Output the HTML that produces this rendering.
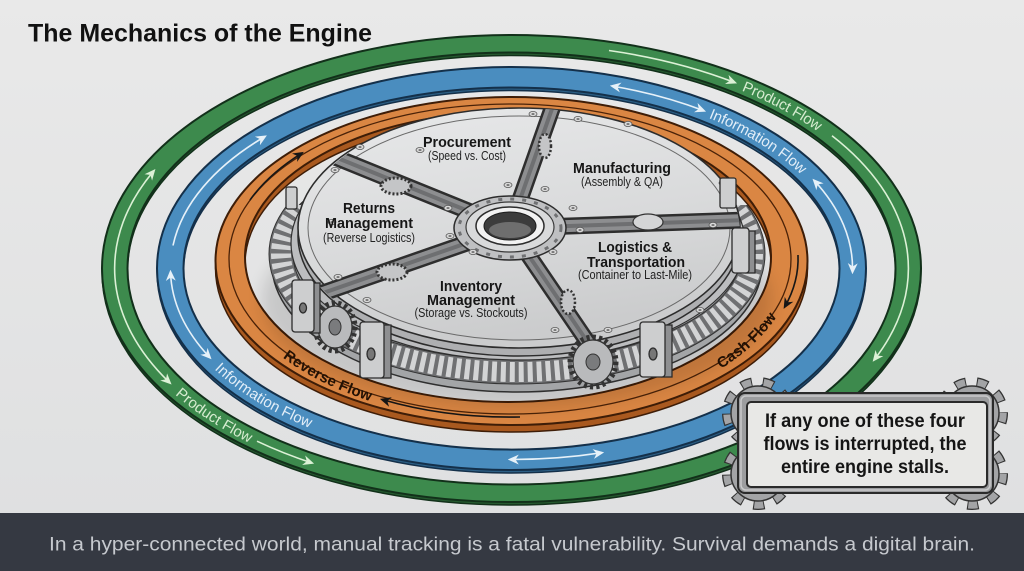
<!DOCTYPE html>
<html>
<head>
<meta charset="utf-8">
<style>
html,body{margin:0;padding:0;background:#e4e4e4;}
svg{display:block;}
.lbl{font-family:"Liberation Sans",sans-serif;font-weight:bold;fill:#161616;text-anchor:middle;}
.sub{font-family:"Liberation Sans",sans-serif;fill:#222;text-anchor:middle;}
.rl{font-family:"Liberation Sans",sans-serif;font-size:15px;text-anchor:middle;}
</style>
</head>
<body>
<svg width="1024" height="571" viewBox="0 0 1024 571" xmlns="http://www.w3.org/2000/svg">
<defs>
  <linearGradient id="bg" x1="0" y1="0" x2="0" y2="1">
    <stop offset="0" stop-color="#e9e9e9"/>
    <stop offset="1" stop-color="#dedfe0"/>
  </linearGradient>
  <linearGradient id="plate" x1="0" y1="0" x2="0.3" y2="1">
    <stop offset="0" stop-color="#e8e9ea"/>
    <stop offset="0.6" stop-color="#d9dadb"/>
    <stop offset="1" stop-color="#cbcccd"/>
  </linearGradient>
  <filter id="blur" x="-20%" y="-20%" width="140%" height="140%"><feGaussianBlur stdDeviation="8"/></filter>
  <clipPath id="plateClip"><ellipse cx="519" cy="232" rx="221" ry="124"/></clipPath>
  <clipPath id="teethClip"><rect x="0" y="205" width="1024" height="300"/></clipPath>
  <marker id="aG" viewBox="0 0 10 10" refX="8" refY="5" markerWidth="11" markerHeight="11" markerUnits="userSpaceOnUse" orient="auto-start-reverse"><path d="M0,0.5 L10,5 L0,9.5 L3,5 Z" fill="#dcf1d6"/></marker>
  <marker id="aB" viewBox="0 0 10 10" refX="8" refY="5" markerWidth="11" markerHeight="11" markerUnits="userSpaceOnUse" orient="auto-start-reverse"><path d="M0,0.5 L10,5 L0,9.5 L3,5 Z" fill="#e6f1f9"/></marker>
  <marker id="aO" viewBox="0 0 10 10" refX="8" refY="5" markerWidth="11" markerHeight="11" markerUnits="userSpaceOnUse" orient="auto-start-reverse"><path d="M0,0.5 L10,5 L0,9.5 L3,5 Z" fill="#161616"/></marker>
  <g id="sc"><ellipse cx="0" cy="0" rx="4" ry="2.6" fill="#d9d9d9" stroke="#555" stroke-width="0.8"/><ellipse cx="0" cy="0" rx="1.6" ry="1" fill="#777"/></g>

  <path id="pfTop" d="M710,73.7 A397,225 0 0,1 848.2,149.3"/>
  <path id="pfBot" d="M155.9,368.5 A397,225 0 0,0 280.4,451.4"/>
  <path id="ifTop" d="M682,103.1 A341,191 0 0,1 824.7,193"/>
  <path id="ifBot" d="M197.6,343.1 A341,191 0 0,0 340,433.6"/>
  <path id="rfP" d="M268.8,339.2 A280,158 0 0,0 393,402.5"/>
  <path id="cfP" d="M701.7,374.2 A280,158 0 0,0 781.7,297.2"/>
</defs>

<rect x="0" y="0" width="1024" height="571" fill="url(#bg)"/>

<!-- Title -->
<text x="28" y="41.5" font-family="Liberation Sans, sans-serif" font-weight="bold" font-size="25" fill="#111" textLength="344" lengthAdjust="spacingAndGlyphs">The Mechanics of the Engine</text>

<!-- GREEN RING -->
<g fill-rule="evenodd">
  <path transform="translate(0,3)" d="M102,268.5 a409.5,233.5 0 1,0 819,0 a409.5,233.5 0 1,0 -819,0 Z M127.5,268.5 a384,216 0 1,0 768,0 a384,216 0 1,0 -768,0 Z" fill="#25592f" stroke="#12301a" stroke-width="1.5"/>
  <path d="M102,268.5 a409.5,233.5 0 1,0 819,0 a409.5,233.5 0 1,0 -819,0 Z M127.5,268.5 a384,216 0 1,0 768,0 a384,216 0 1,0 -768,0 Z" fill="#3d8a4d" stroke="#12301a" stroke-width="2"/>
</g>
<!-- BLUE RING -->
<g fill-rule="evenodd">
  <path transform="translate(0,3)" d="M157,268.5 a354.5,201.5 0 1,0 709,0 a354.5,201.5 0 1,0 -709,0 Z M183.5,268.5 a328,181 0 1,0 656,0 a328,181 0 1,0 -656,0 Z" fill="#2c5f85" stroke="#14304a" stroke-width="1.5"/>
  <path d="M157,268.5 a354.5,201.5 0 1,0 709,0 a354.5,201.5 0 1,0 -709,0 Z M183.5,268.5 a328,181 0 1,0 656,0 a328,181 0 1,0 -656,0 Z" fill="#4a8dbf" stroke="#14304a" stroke-width="2"/>
</g>
<!-- ORANGE RING -->
<g fill-rule="evenodd">
  <path transform="translate(0,7)" d="M215.5,261 a296,164 0 1,0 592,0 a296,164 0 1,0 -592,0 Z M245,257 a263,145 0 1,0 526,0 a263,145 0 1,0 -526,0 Z" fill="#a9591f" stroke="#3e1d07" stroke-width="1.5"/>
  <path d="M215.5,261 a296,164 0 1,0 592,0 a296,164 0 1,0 -592,0 Z M245,257 a263,145 0 1,0 526,0 a263,145 0 1,0 -526,0 Z" fill="#da8643" stroke="#3e1d07" stroke-width="2"/>
</g>
<ellipse cx="510" cy="259" rx="281" ry="155" fill="none" stroke="#4a2208" stroke-width="1.3"/>

<!-- ring arrows -->
<g fill="none" stroke-width="1.6">
  <path d="M154,170.7 A397,225 0 0,0 170,383" stroke="#dcf1d6" marker-start="url(#aG)" marker-end="url(#aG)"/>
  <path d="M257,441.2 A397,225 0 0,0 312,463" stroke="#dcf1d6" marker-end="url(#aG)"/>
  <path d="M609,50.5 A397,225 0 0,1 735,82.6" stroke="#dcf1d6" marker-end="url(#aG)"/>
  <path d="M832,135.7 A397,225 0 0,1 874,360" stroke="#dcf1d6" marker-end="url(#aG)"/>

  <path d="M173,245.5 A341,191 0 0,1 265,136.5" stroke="#e6f1f9" marker-end="url(#aB)"/>
  <path d="M170.5,272 A341,191 0 0,0 210,357.7" stroke="#e6f1f9" marker-start="url(#aB)" marker-end="url(#aB)"/>
  <path d="M612,86 A341,191 0 0,1 704,110.8" stroke="#e6f1f9" marker-start="url(#aB)" marker-end="url(#aB)"/>
  <path d="M814,180.3 A341,191 0 0,1 852.5,272" stroke="#e6f1f9" marker-start="url(#aB)" marker-end="url(#aB)"/>
  <path d="M510,459.5 A341,191 0 0,0 602,452.7" stroke="#e6f1f9" marker-start="url(#aB)" marker-end="url(#aB)"/>

  <path d="M250,200 A280,158 0 0,1 302,153" stroke="#161616" marker-end="url(#aO)"/>
  <path d="M520,417 A280,158 0 0,1 382,399.5" stroke="#161616" marker-end="url(#aO)"/>
  <path d="M798,255 A288,160 0 0,1 784.7,307" stroke="#161616" marker-end="url(#aO)"/>
</g>

<!-- ring labels -->
<text class="rl" fill="#d6ecd0" dy="5"><textPath href="#pfTop" startOffset="50%">Product Flow</textPath></text>
<text class="rl" fill="#d6ecd0" dy="5"><textPath href="#pfBot" startOffset="50%">Product Flow</textPath></text>
<text class="rl" fill="#e2eef8" dy="5"><textPath href="#ifTop" startOffset="50%">Information Flow</textPath></text>
<text class="rl" fill="#e2eef8" dy="5"><textPath href="#ifBot" startOffset="50%">Information Flow</textPath></text>
<text class="rl" fill="#241205" font-weight="bold" font-size="14" dy="5"><textPath href="#rfP" startOffset="50%">Reverse Flow</textPath></text>
<text class="rl" fill="#241205" font-weight="bold" font-size="14" dy="5"><textPath href="#cfP" startOffset="50%">Cash Flow</textPath></text>

<!-- MACHINE -->
<ellipse cx="517" cy="300" rx="255" ry="108" fill="#000" opacity="0.12" filter="url(#blur)"/>
<ellipse cx="517" cy="264" rx="245" ry="128" fill="#a3a5a7" stroke="#2f2f2f" stroke-width="1.5"/>
<g clip-path="url(#teethClip)">
  <ellipse cx="517" cy="254" rx="236" ry="118" fill="none" stroke="#6f7072" stroke-width="24"/>
  <ellipse cx="517" cy="254" rx="236" ry="118" fill="none" stroke="#d3d4d5" stroke-width="20" stroke-dasharray="5 4"/>
  <ellipse cx="517" cy="254" rx="248" ry="130" fill="none" stroke="#333" stroke-width="1"/>
  <ellipse cx="517" cy="254" rx="224" ry="106" fill="none" stroke="#333" stroke-width="1"/>
</g>
<ellipse cx="518" cy="243" rx="227" ry="117" fill="#bcbdbf" stroke="#2f2f2f" stroke-width="1.2"/>
<ellipse cx="519" cy="236" rx="221" ry="120" fill="#aeafb1" stroke="#2c2c2c" stroke-width="1.5"/>
<ellipse cx="519" cy="228" rx="221" ry="120" fill="url(#plate)" stroke="#2c2c2c" stroke-width="1.6"/>
<ellipse cx="519" cy="228" rx="211" ry="112" fill="none" stroke="#6a6a6a" stroke-width="1"/>

<!-- grooves -->
<g clip-path="url(#plateClip)">
  <path d="M510,228 L330,155 M510,228 L553,106 M510,228 L746,220 M510,228 L593,350 M510,228 L300,301" stroke="#2e2e2e" stroke-width="17" fill="none"/>
  <path d="M510,228 L330,155 M510,228 L553,106 M510,228 L746,220 M510,228 L593,350 M510,228 L300,301" stroke="#8d8e90" stroke-width="12" fill="none"/>
  <path d="M510,228 L330,155 M510,228 L553,106 M510,228 L746,220 M510,228 L593,350 M510,228 L300,301" stroke="#6e6f71" stroke-width="4" fill="none"/>
</g>
<!-- gears in grooves -->
<ellipse cx="396" cy="186" rx="15" ry="8" fill="#c4c5c7" stroke="#333" stroke-width="3" stroke-dasharray="2 2"/>
<ellipse cx="392" cy="272" rx="15" ry="8" fill="#c4c5c7" stroke="#333" stroke-width="3" stroke-dasharray="2 2"/>
<ellipse cx="648" cy="222" rx="15" ry="8" fill="#d4d5d6" stroke="#333" stroke-width="1.2"/>
<ellipse cx="545" cy="146" rx="6" ry="12" fill="#c4c5c7" stroke="#333" stroke-width="2.5" stroke-dasharray="2 2"/>
<ellipse cx="568" cy="302" rx="7" ry="12" fill="#c4c5c7" stroke="#333" stroke-width="2.5" stroke-dasharray="2 2"/>

<!-- hub -->
<ellipse cx="510" cy="228" rx="56" ry="32" fill="#bfc0c2" stroke="#2c2c2c" stroke-width="1.5"/>
<ellipse cx="510" cy="228" rx="51" ry="29" fill="none" stroke="#707173" stroke-width="3" stroke-dasharray="4 8"/>
<ellipse cx="510" cy="227" rx="44" ry="25" fill="#d9dadb" stroke="#3a3a3a" stroke-width="1.2"/>
<ellipse cx="510" cy="226" rx="34" ry="19" fill="#f2f2f2" stroke="#2c2c2c" stroke-width="1.5"/>
<ellipse cx="510" cy="226" rx="26" ry="14" fill="#3c3c3c" stroke="#1c1c1c" stroke-width="1"/>
<ellipse cx="510" cy="230" rx="21" ry="8" fill="#6e6e6e"/>

<!-- screws -->
<use href="#sc" x="533" y="114"/><use href="#sc" x="578" y="119"/><use href="#sc" x="628" y="124"/>
<use href="#sc" x="360" y="147"/><use href="#sc" x="335" y="170"/><use href="#sc" x="508" y="185"/>
<use href="#sc" x="545" y="189"/><use href="#sc" x="573" y="208"/><use href="#sc" x="448" y="208"/>
<use href="#sc" x="450" y="236"/><use href="#sc" x="473" y="252"/><use href="#sc" x="553" y="252"/>
<use href="#sc" x="580" y="230"/><use href="#sc" x="713" y="225"/><use href="#sc" x="723" y="183"/>
<use href="#sc" x="338" y="277"/><use href="#sc" x="367" y="300"/><use href="#sc" x="555" y="330"/>
<use href="#sc" x="332" y="222"/><use href="#sc" x="420" y="150"/><use href="#sc" x="700" y="310"/>
<use href="#sc" x="608" y="330"/>

<!-- small gears on side -->
<g>
  <ellipse cx="335" cy="327" rx="19" ry="23" fill="none" stroke="#333" stroke-width="7" stroke-dasharray="3 3"/>
  <ellipse cx="335" cy="327" rx="17" ry="21" fill="#b9babc" stroke="#333" stroke-width="1.2"/>
  <ellipse cx="335" cy="327" rx="6" ry="8" fill="#7a7b7d" stroke="#333"/>
  <ellipse cx="593" cy="362" rx="22" ry="24" fill="none" stroke="#333" stroke-width="7" stroke-dasharray="3 3"/>
  <ellipse cx="593" cy="362" rx="20" ry="22" fill="#b9babc" stroke="#333" stroke-width="1.2"/>
  <ellipse cx="593" cy="362" rx="7" ry="8" fill="#7a7b7d" stroke="#333"/>
</g>
<!-- brackets -->
<g stroke="#2c2c2c" stroke-width="1.3">
  <rect x="310" y="283" width="10" height="50" fill="#8e8f91"/>
  <rect x="292" y="280" width="22" height="52" rx="3" fill="#cdcecf"/>
  <ellipse cx="303" cy="308" rx="3.5" ry="5" fill="#777"/>
  <rect x="381" y="325" width="10" height="53" fill="#8e8f91"/>
  <rect x="360" y="322" width="24" height="56" rx="3" fill="#cdcecf"/>
  <ellipse cx="371" cy="354" rx="4" ry="6" fill="#777"/>
  <rect x="662" y="325" width="10" height="52" fill="#8e8f91"/>
  <rect x="640" y="322" width="25" height="55" rx="3" fill="#cdcecf"/>
  <ellipse cx="653" cy="354" rx="4" ry="6" fill="#777"/>
  <rect x="746" y="231" width="9" height="42" fill="#8e8f91"/>
  <rect x="732" y="228" width="17" height="45" rx="3" fill="#cdcecf"/>
  <rect x="286" y="187" width="11" height="22" rx="2" fill="#cdcecf"/>
  <rect x="720" y="178" width="16" height="30" rx="2" fill="#cdcecf"/>
</g>

<!-- segment labels -->
<text class="lbl" x="467" y="147" font-size="15" textLength="88" lengthAdjust="spacingAndGlyphs">Procurement</text>
<text class="sub" x="467" y="160" font-size="12.5" textLength="78" lengthAdjust="spacingAndGlyphs">(Speed vs. Cost)</text>
<text class="lbl" x="622" y="173" font-size="15" textLength="98" lengthAdjust="spacingAndGlyphs">Manufacturing</text>
<text class="sub" x="622" y="186" font-size="12.5" textLength="82" lengthAdjust="spacingAndGlyphs">(Assembly &amp; QA)</text>
<text class="lbl" x="369" y="213" font-size="15" textLength="52" lengthAdjust="spacingAndGlyphs">Returns</text>
<text class="lbl" x="369" y="228" font-size="15" textLength="88" lengthAdjust="spacingAndGlyphs">Management</text>
<text class="sub" x="369" y="242" font-size="12.5" textLength="92" lengthAdjust="spacingAndGlyphs">(Reverse Logistics)</text>
<text class="lbl" x="635" y="252" font-size="15" textLength="74" lengthAdjust="spacingAndGlyphs">Logistics &amp;</text>
<text class="lbl" x="636" y="267" font-size="15" textLength="98" lengthAdjust="spacingAndGlyphs">Transportation</text>
<text class="sub" x="635" y="279" font-size="12.5" textLength="114" lengthAdjust="spacingAndGlyphs">(Container to Last-Mile)</text>
<text class="lbl" x="471" y="291" font-size="15" textLength="62" lengthAdjust="spacingAndGlyphs">Inventory</text>
<text class="lbl" x="471" y="305" font-size="15" textLength="88" lengthAdjust="spacingAndGlyphs">Management</text>
<text class="sub" x="471" y="317" font-size="12.5" textLength="113" lengthAdjust="spacingAndGlyphs">(Storage vs. Stockouts)</text>

<!-- CALLOUT -->
<g>
  <g>
    <circle cx="758" cy="413" r="31" fill="none" stroke="#333" stroke-width="10" stroke-dasharray="11 10.65" stroke-dashoffset="1"/>
    <circle cx="758" cy="413" r="31" fill="none" stroke="#a3a4a6" stroke-width="7.5" stroke-dasharray="9 12.65"/>
    <circle cx="758" cy="413" r="27" fill="#a3a4a6" stroke="#333" stroke-width="1.5"/>
    <circle cx="972" cy="413" r="31" fill="none" stroke="#333" stroke-width="10" stroke-dasharray="11 10.65" stroke-dashoffset="1"/>
    <circle cx="972" cy="413" r="31" fill="none" stroke="#a3a4a6" stroke-width="7.5" stroke-dasharray="9 12.65"/>
    <circle cx="972" cy="413" r="27" fill="#a3a4a6" stroke="#333" stroke-width="1.5"/>
    <circle cx="758" cy="474" r="31" fill="none" stroke="#333" stroke-width="10" stroke-dasharray="11 10.65" stroke-dashoffset="1"/>
    <circle cx="758" cy="474" r="31" fill="none" stroke="#a3a4a6" stroke-width="7.5" stroke-dasharray="9 12.65"/>
    <circle cx="758" cy="474" r="27" fill="#a3a4a6" stroke="#333" stroke-width="1.5"/>
    <circle cx="972" cy="474" r="31" fill="none" stroke="#333" stroke-width="10" stroke-dasharray="11 10.65" stroke-dashoffset="1"/>
    <circle cx="972" cy="474" r="31" fill="none" stroke="#a3a4a6" stroke-width="7.5" stroke-dasharray="9 12.65"/>
    <circle cx="972" cy="474" r="27" fill="#a3a4a6" stroke="#333" stroke-width="1.5"/>
  </g>
  <rect x="738" y="393" width="255" height="100" rx="7" fill="#9c9d9f" stroke="#2a2a2a" stroke-width="2"/>
  <rect x="741" y="396" width="249" height="94" rx="5" fill="none" stroke="#c9cacb" stroke-width="1.5"/>
  <rect x="747" y="402" width="240" height="85" rx="4" fill="#e8e8e6" stroke="#2a2a2a" stroke-width="2"/>
  <g font-family="Liberation Sans, sans-serif" font-weight="bold" font-size="19" fill="#151515" text-anchor="middle">
    <text x="865" y="427" textLength="200" lengthAdjust="spacingAndGlyphs">If any one of these four</text>
    <text x="865" y="450" textLength="203" lengthAdjust="spacingAndGlyphs">flows is interrupted, the</text>
    <text x="865" y="473" textLength="168" lengthAdjust="spacingAndGlyphs">entire engine stalls.</text>
  </g>
</g>

<!-- BOTTOM BAR -->
<rect x="0" y="513" width="1024" height="58" fill="#353942"/>
<text x="49" y="550.5" font-family="Liberation Sans, sans-serif" font-size="19.5" fill="#c6c9ce" textLength="926" lengthAdjust="spacingAndGlyphs">In a hyper-connected world, manual tracking is a fatal vulnerability. Survival demands a digital brain.</text>
</svg>
</body>
</html>
